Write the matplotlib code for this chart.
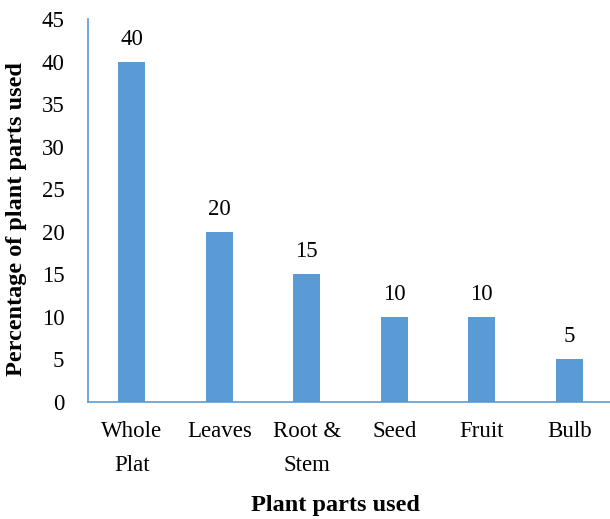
import matplotlib
matplotlib.use("Agg")
import matplotlib.pyplot as plt

categories = ["Whole\nPlat", "Leaves", "Root &\nStem", "Seed", "Fruit", "Bulb"]
percentages = [40, 20, 15, 10, 10, 5]
y_ticks = [0, 5, 10, 15, 20, 25, 30, 35, 40, 45]

plt.rcParams["font.family"] = ["Liberation Serif", "DejaVu Serif"]

W, H = 610, 519
fig = plt.figure(figsize=(W / 100, H / 100), dpi=100)
ax_left, ax_bottom_px, ax_w, ax_h = 88, 401.7, 525, 382.5
ax = fig.add_axes([ax_left / W, (H - ax_bottom_px) / H, ax_w / W, ax_h / H])

bar_color = "#5B9BD5"
x = list(range(len(categories)))
ax.bar(x, percentages, width=0.31, color=bar_color)
for xi, v in zip(x, percentages):
    ax.annotate(str(v), (xi, v), xytext=(0, 8.5), textcoords="offset points",
                ha="center", va="bottom", fontsize=16.5)

ax.set_xlim(-0.5, len(categories) - 0.5)
ax.set_ylim(0, 45)
ax.set_yticks(y_ticks)
ax.set_xticks(x)
ax.set_xticklabels(categories, fontsize=16.5, linespacing=1.8)
ax.tick_params(axis="both", length=0, labelsize=16.5)
ax.tick_params(axis="y", pad=17)
ax.tick_params(axis="x", pad=14)

for side in ("top", "right"):
    ax.spines[side].set_visible(False)
for side in ("left", "bottom"):
    ax.spines[side].set_color(bar_color)
    ax.spines[side].set_linewidth(1.2)

ax.set_ylabel("Percentage of plant parts used", fontsize=17.5, fontweight="bold")
ax.set_xlabel("Plant parts used", fontsize=17.5, fontweight="bold")
ax.yaxis.set_label_coords((17 - ax_left) / ax_w, (ax_bottom_px - 219) / ax_h)
ax.yaxis.label.set_verticalalignment("center")
ax.xaxis.set_label_coords((335 - ax_left) / ax_w, (ax_bottom_px - 506) / ax_h)
ax.xaxis.label.set_verticalalignment("center")

fig.savefig("out.png", dpi=100)
